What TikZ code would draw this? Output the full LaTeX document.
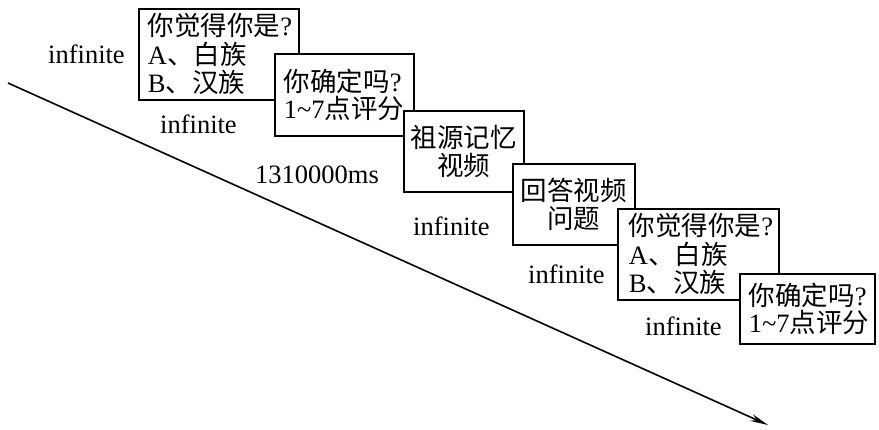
\documentclass[tikz,border=0pt]{standalone}
\usepackage{fontspec}
\setmainfont{Liberation Serif}
\newfontfamily\cjk{Noto Sans CJK SC}
\usetikzlibrary{arrows.meta}
\tikzset{
  stepbox/.style={draw, line width=1.8pt, fill=white, anchor=north west,
    inner ysep=0pt, font=\fontsize{26.5}{28.5}\selectfont},
  tightbox/.style={stepbox, font=\fontsize{26.5}{27}\selectfont},
  lbl/.style={anchor=base west, inner sep=0pt, font=\fontsize{26.5}{30}\selectfont},
  timeline/.style={line width=1.6pt, -{Stealth[length=18pt,width=7pt]}},
}
\begin{document}
\begin{tikzpicture}[x=1pt,y=-1pt]
\useasboundingbox (0,0) rectangle (879,429);
\coordinate (s) at (8,83);
\coordinate (e) at (768,425);
\draw[timeline] (s) -- (e);

\node[stepbox, minimum width=160pt, minimum height=91pt, inner xsep=9pt, text width=142pt, align=left] (b1) at (138,8)
  {{\cjk 你觉得你是}?\\A{\cjk 、白族}\\B{\cjk 、汉族}};
\node[tightbox, minimum width=139pt, minimum height=82pt, inner xsep=9pt, text width=121pt, align=left] (b2) at (274,53)
  {{\cjk 你确定吗}?\\1\textasciitilde7{\cjk 点评分}};
\node[stepbox, minimum width=120pt, minimum height=81pt, inner xsep=0pt, text width=120pt, align=center, font=\fontsize{26.5}{28}\selectfont] (b3) at (403,110)
  {{\cjk 祖源记忆}\\{\cjk 视频}};
\node[stepbox, minimum width=122pt, minimum height=81pt, inner xsep=0pt, text width=122pt, align=center, font=\fontsize{26.5}{28}\selectfont] (b4) at (512,163)
  {{\cjk 回答视频}\\{\cjk 问题}};
\node[stepbox, minimum width=161pt, minimum height=91pt, inner xsep=11pt, text width=139pt, align=left] (b5) at (617,208)
  {{\cjk 你觉得你是}?\\A{\cjk 、白族}\\B{\cjk 、汉族}};
\node[tightbox, minimum width=135pt, minimum height=70pt, inner xsep=9pt, text width=117pt, align=left] (b6) at (739,273)
  {{\cjk 你确定吗}?\\1\textasciitilde7{\cjk 点评分}};

\node[lbl] (t1) at (48,63) {infinite};
\node[lbl] (t2) at (160,133) {infinite};
\node[lbl] (t3) at (255,183) {1310000ms};
\node[lbl] (t4) at (413,235) {infinite};
\node[lbl] (t5) at (528,283) {infinite};
\node[lbl] (t6) at (645,335) {infinite};
\end{tikzpicture}
\end{document}
